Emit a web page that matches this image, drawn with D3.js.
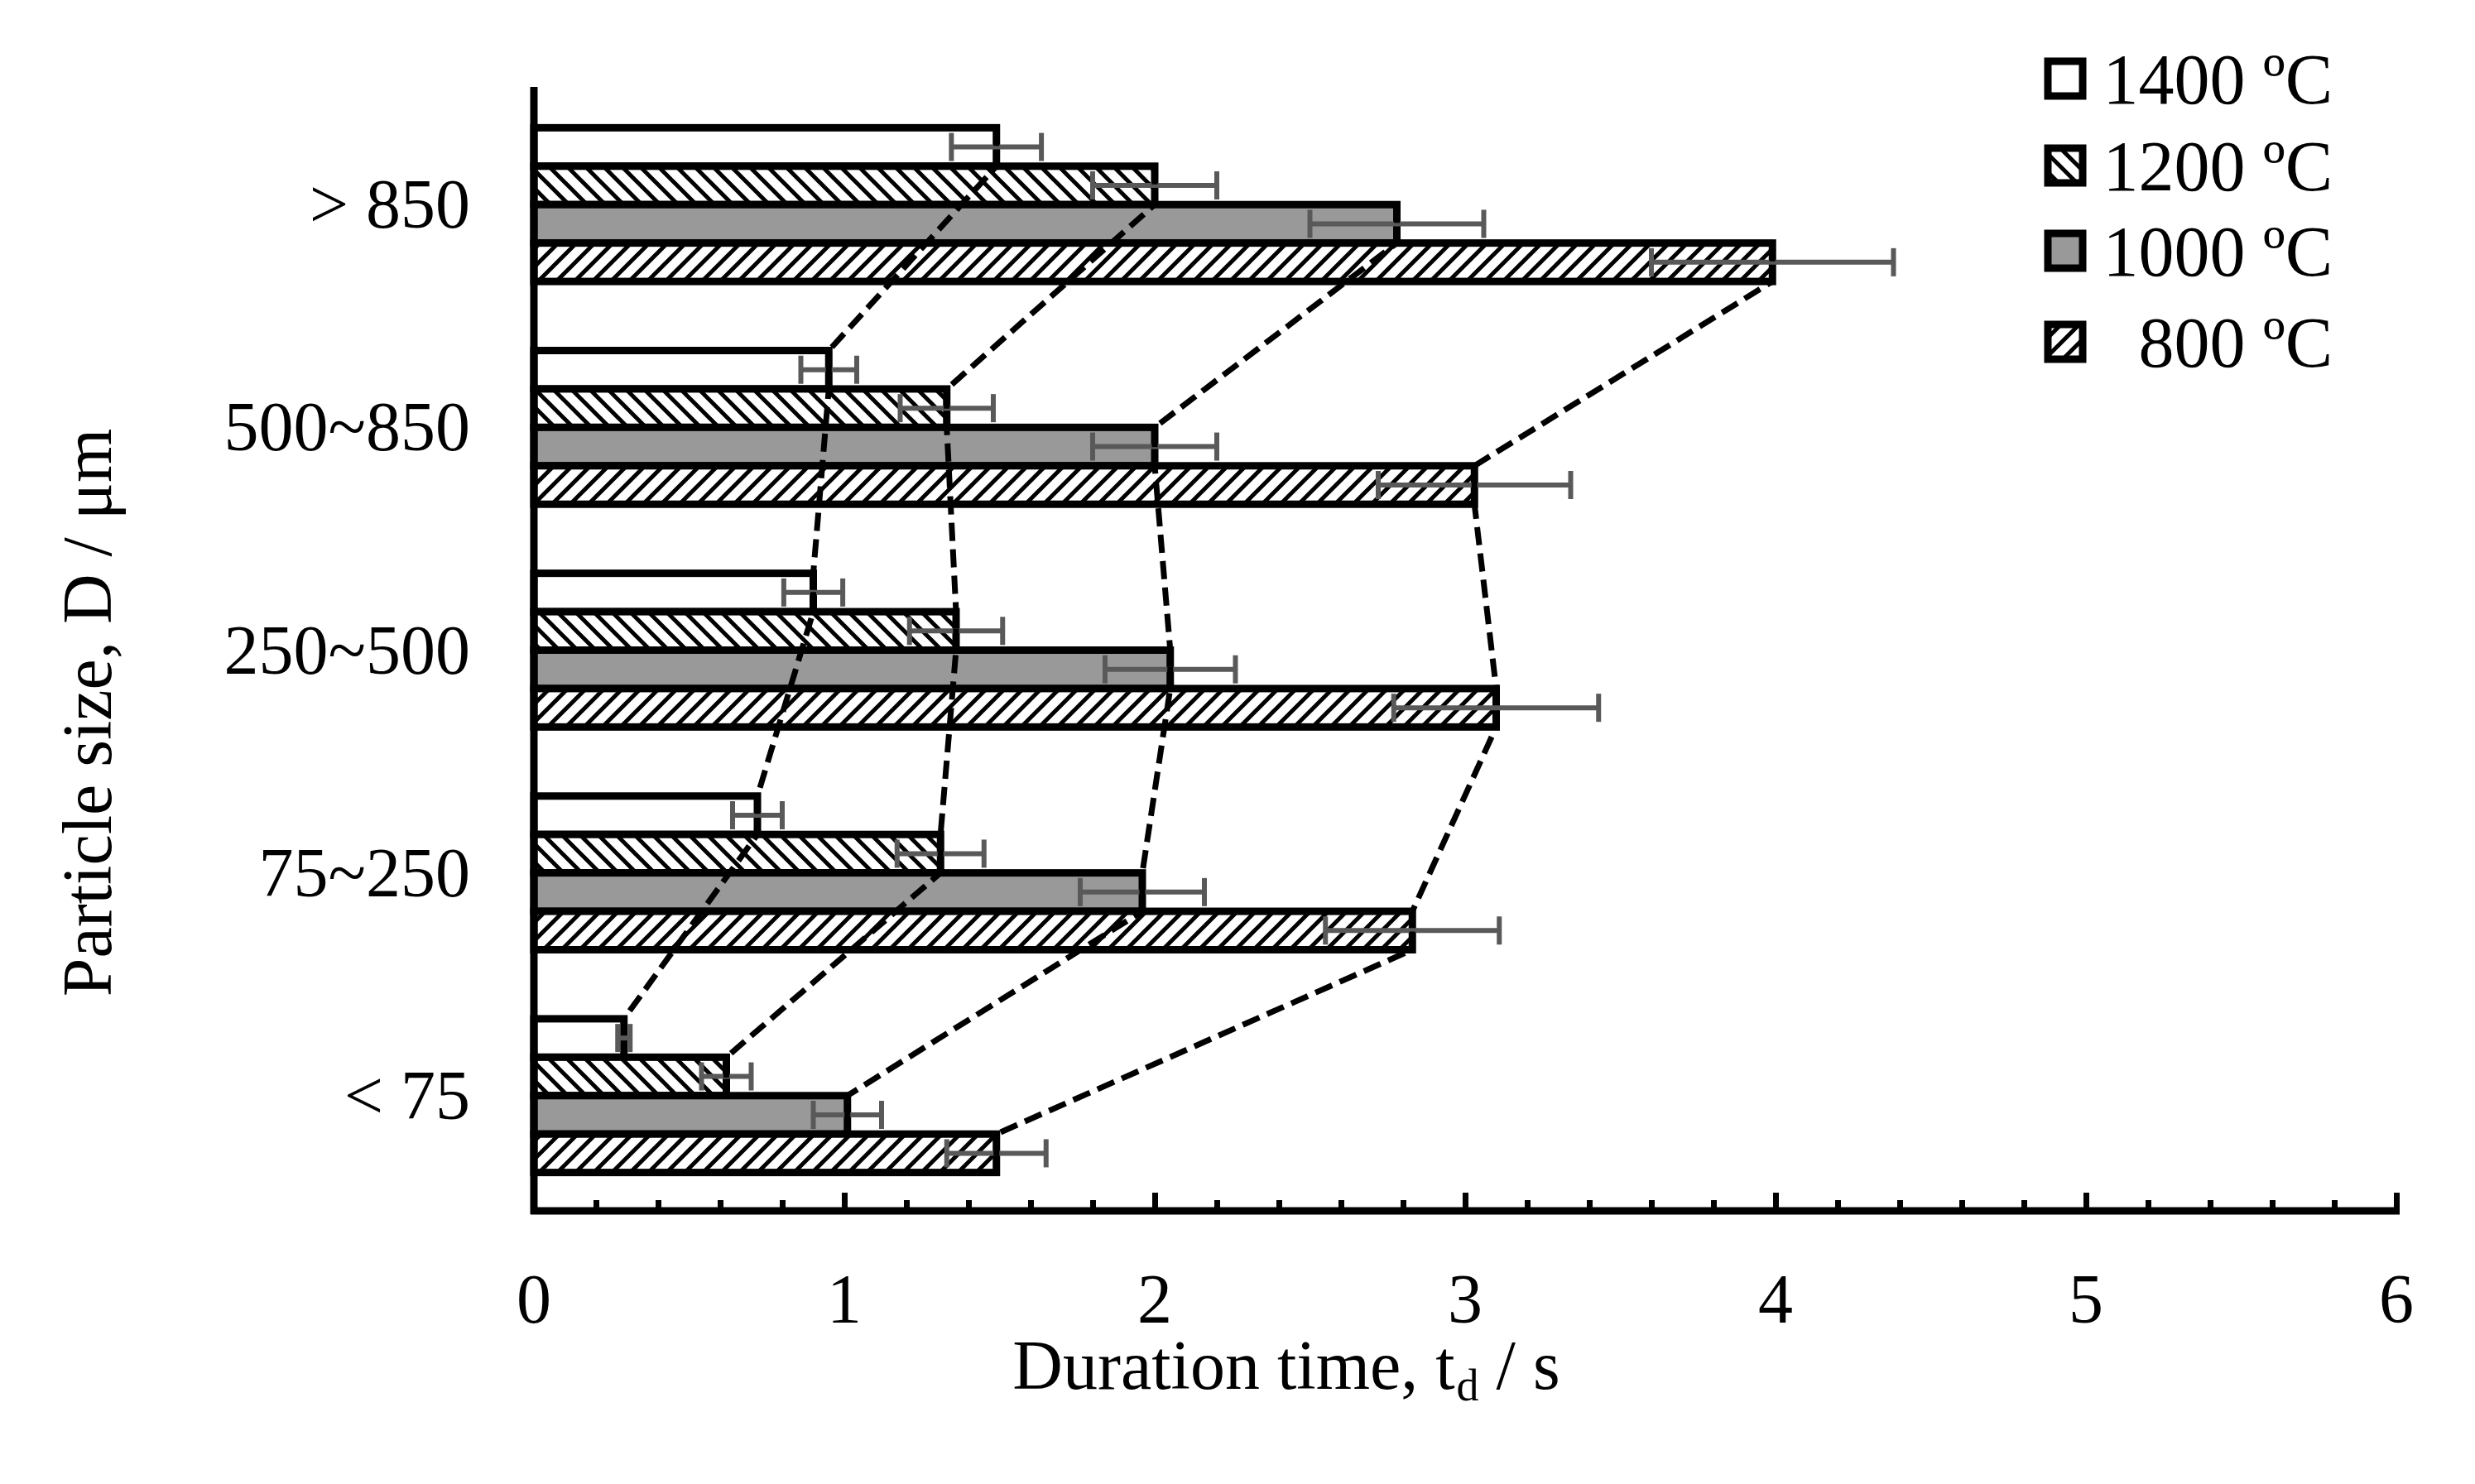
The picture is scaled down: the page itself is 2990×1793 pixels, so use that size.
<!DOCTYPE html>
<html><head><meta charset="utf-8">
<script src="https://cdn.jsdelivr.net/npm/d3@7"></script>
<style>body{margin:0;background:#fff}text{font-family:"Liberation Serif","DejaVu Serif",serif;fill:#000}</style>
</head><body><svg id="c" width="2990" height="1793"></svg>
<script>
const categories = ["> 850","500~850","250~500","75~250","< 75"];
const seriesNames = ["1400 ºC","1200 ºC","1000 ºC","800 ºC"];
const legendLabels = ["1400 ºC","1200 ºC","1000 ºC","\u2002800 ºC"];
const values = [
  [1.49, 0.95, 0.90, 0.72, 0.29],
  [2.00, 1.33, 1.36, 1.31, 0.62],
  [2.78, 2.00, 2.05, 1.96, 1.01],
  [3.99, 3.03, 3.10, 2.83, 1.49]
];
const errors = [
  [0.145, 0.09, 0.095, 0.08, 0.02],
  [0.20, 0.15, 0.15, 0.14, 0.08],
  [0.28, 0.20, 0.21, 0.20, 0.11],
  [0.39, 0.31, 0.33, 0.28, 0.16]
];
const xTicks = [0,1,2,3,4,5,6];

const svg = d3.select("#c");
const defs = svg.append("defs");
function hatch(id, dir){
  const P=22;
  const p = defs.append("pattern").attr("id",id).attr("patternUnits","userSpaceOnUse").attr("width",P).attr("height",P);
  p.append("rect").attr("width",P).attr("height",P).attr("fill","#fff");
  const d = dir>0 ? `M-5,${P+5} L${P+5},-5 M-5,5 L5,-5 M${P-5},${P+5} L${P+5},${P-5}`
                  : `M-5,-5 L${P+5},${P+5} M-5,${P-5} L5,${P+5} M${P-5},-5 L${P+5},5`;
  p.append("path").attr("d",d).attr("stroke","#000").attr("stroke-width",5);
}
hatch("h1200",-1); hatch("h800",1);
const fills = ["#fff","url(#h1200)","#999","url(#h800)"];

const X0=645, X1=2895, YB=1463, YT=105;
const x = d3.scaleLinear().domain([0,6]).range([X0,X1]);
const y0 = d3.scaleBand().domain(categories).range([114,1457]).paddingInner(0.31).paddingOuter(0.15);
const y1 = d3.scaleBand().domain(seriesNames).range([0,y0.bandwidth()]);

const g = svg.append("g");
seriesNames.forEach((s,si)=>{
  g.selectAll(null).data(categories).enter().append("rect")
    .attr("x",x(0)).attr("y",c=>y0(c)+y1(s)).attr("width",(c,ci)=>x(values[si][ci])-x(0))
    .attr("height",y1.bandwidth()).attr("fill",fills[si]).attr("stroke","#000").attr("stroke-width",9);
});
seriesNames.forEach((s,si)=>{
  categories.forEach((c,ci)=>{
    const cy = y0(c)+y1(s)+y1.bandwidth()/2, v=values[si][ci], e=errors[si][ci];
    const eg = g.append("g").attr("stroke","#595959").attr("stroke-width",6);
    eg.append("line").attr("x1",x(v-e)).attr("x2",x(v+e)).attr("y1",cy).attr("y2",cy);
    [v-e,v+e].forEach(t=>eg.append("line").attr("x1",x(t)).attr("x2",x(t)).attr("y1",cy-17).attr("y2",cy+17));
  });
});
seriesNames.forEach((s,si)=>{
  const pts=[];
  categories.forEach((c,ci)=>{
    const top=y0(c)+y1(s), bot=top+y1.bandwidth();
    pts.push([x(values[si][ci]),top],[x(values[si][ci]),bot]);
  });
  g.append("path").attr("d",d3.line()(pts)).attr("fill","none").attr("stroke","#000")
    .attr("stroke-width",7).attr("stroke-dasharray","22,10");
});
const xa = svg.append("g").attr("transform",`translate(0,${YB})`)
  .call(d3.axisBottom(x).tickValues(d3.range(0,6.01,0.2)).tickSize(-13).tickFormat(""));
xa.select(".domain").remove();
xa.selectAll(".tick line").attr("stroke","#000").attr("stroke-width",7)
  .attr("y2",(d)=>Math.abs(d-Math.round(d))<1e-6?-22:-13);
svg.append("line").attr("x1",X0-4).attr("x2",X1+4).attr("y1",YB).attr("y2",YB).attr("stroke","#000").attr("stroke-width",9);
svg.append("line").attr("x1",X0).attr("x2",X0).attr("y1",YT).attr("y2",YB+4).attr("stroke","#000").attr("stroke-width",9);
svg.selectAll(null).data(xTicks).enter().append("text").attr("x",d=>x(d)).attr("y",1598)
  .attr("text-anchor","middle").attr("font-size",84).text(d=>d);
svg.selectAll(null).data(categories).enter().append("text").attr("x",568)
  .attr("y",c=>y0(c)+y0.bandwidth()/2+28).attr("text-anchor","end").attr("font-size",84).text(c=>c);
const xt = svg.append("text").attr("x",1554).attr("y",1678).attr("text-anchor","middle").attr("font-size",84);
xt.append("tspan").text("Duration time, t");
xt.append("tspan").attr("font-size",54).attr("dy",14).attr("dx",2).text("d");
xt.append("tspan").attr("dy",-14).text(" / s");
svg.append("text").attr("transform","translate(134,861) rotate(-90)").attr("text-anchor","middle")
  .attr("font-size",84).text("Particle size, D / μm");
const ly=[95,200,303,413];
seriesNames.forEach((s,i)=>{
  svg.append("rect").attr("x",2474).attr("y",ly[i]-21).attr("width",42).attr("height",42)
    .attr("fill",fills[i]).attr("stroke","#000").attr("stroke-width",9);
  svg.append("text").attr("x",2818).attr("y",ly[i]+30).attr("text-anchor","end").attr("font-size",86).text(legendLabels[i]);
});
</script></body></html>
